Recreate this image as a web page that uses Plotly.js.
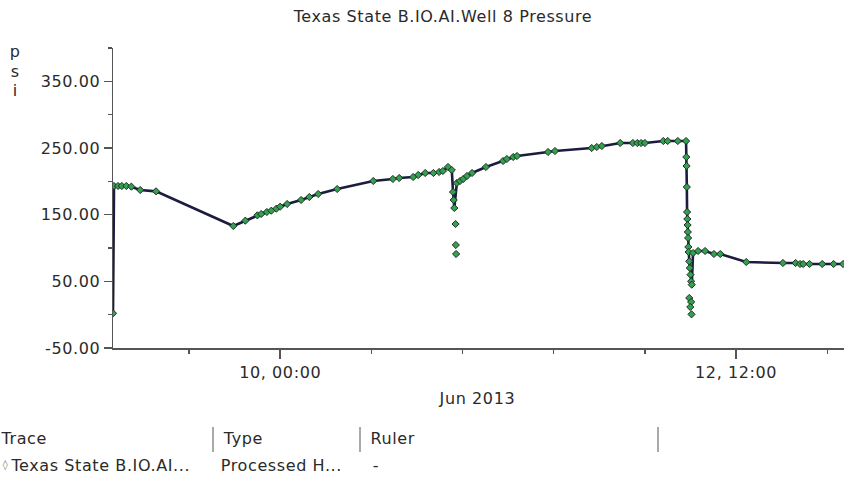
<!DOCTYPE html>
<html>
<head>
<meta charset="utf-8">
<script src="https://cdn.plot.ly/plotly-3.0.1.min.js"></script>
<style>html,body{margin:0;padding:0;background:#fff;}#chart{width:844px;height:481px;}#chart text{letter-spacing:0.6px;}</style>
</head>
<body>
<div id="chart"></div>
<script>
// ---- data ----
const chartTitle = "Texas State B.IO.AI.Well 8 Pressure";
const yUnitLetters = ["p", "s", "i"];
const timeLabel = "Jun 2013";

const times = [
  "2013-06-09 02:00","2013-06-09 02:08","2013-06-09 02:40","2013-06-09 03:10","2013-06-09 03:45",
  "2013-06-09 04:25","2013-06-09 05:35","2013-06-09 07:40","2013-06-09 17:50","2013-06-09 19:25",
  "2013-06-09 21:00","2013-06-09 21:30","2013-06-09 22:15","2013-06-09 22:50","2013-06-09 23:30",
  "2013-06-10 00:00","2013-06-10 00:55","2013-06-10 02:45","2013-06-10 03:50","2013-06-10 05:00",
  "2013-06-10 07:30","2013-06-10 12:15","2013-06-10 14:50","2013-06-10 15:40","2013-06-10 17:30",
  "2013-06-10 18:10","2013-06-10 19:05","2013-06-10 20:10","2013-06-10 20:55","2013-06-10 21:25",
  "2013-06-10 22:05","2013-06-10 22:35","2013-06-10 22:45","2013-06-10 22:50","2013-06-10 22:55",
  "2013-06-10 23:15","2013-06-10 23:40","2013-06-11 00:05","2013-06-11 00:35","2013-06-11 01:15",
  "2013-06-11 03:05","2013-06-11 05:20","2013-06-11 05:50","2013-06-11 06:40","2013-06-11 07:10",
  "2013-06-11 11:15","2013-06-11 12:10","2013-06-11 17:00","2013-06-11 17:40","2013-06-11 18:20",
  "2013-06-11 20:45","2013-06-11 22:25","2013-06-11 23:00","2013-06-11 23:30","2013-06-12 00:00",
  "2013-06-12 02:25","2013-06-12 03:00","2013-06-12 04:20","2013-06-12 05:25","2013-06-12 05:27",
  "2013-06-12 05:29","2013-06-12 05:31","2013-06-12 05:33","2013-06-12 05:35","2013-06-12 05:37",
  "2013-06-12 05:39","2013-06-12 05:41","2013-06-12 05:43","2013-06-12 05:45","2013-06-12 05:50",
  "2013-06-12 05:55","2013-06-12 06:00","2013-06-12 06:05","2013-06-12 06:10","2013-06-12 06:20",
  "2013-06-12 07:00","2013-06-12 07:55","2013-06-12 09:05","2013-06-12 09:55","2013-06-12 13:20",
  "2013-06-12 18:10","2013-06-12 19:50","2013-06-12 20:25","2013-06-12 20:50","2013-06-12 21:40",
  "2013-06-12 23:20","2013-06-13 00:50","2013-06-13 02:05"
];
const pressure = [
  2,193,193,193,193,
  192,187,185,133,141,
  149,151,154,156,159,
  162,166,172,176.5,181,
  188.5,200.5,203.5,205,206.5,
  209.5,212.5,212.5,214,215.5,
  221.5,217,184,172,160,
  197.5,200.5,203.5,208,212.5,
  221.5,230.5,233.5,236.5,238,
  244,245.5,250,251.5,253,
  257.5,257.5,257.5,257.5,257.5,
  260.5,260.5,260.5,260.5,236.5,
  223,191.5,154,143.5,134.5,
  124,115,101.5,94,80,
  70,60,50,45,92.5,
  95.5,95.5,91,91,79,
  77.5,77.5,76,76,76,
  76,76,76
];
// isolated samples below the drops (no connecting line)
const spikeTimes = ["2013-06-10 23:05","2013-06-10 23:07","2013-06-10 23:09",
                    "2013-06-12 05:50","2013-06-12 06:05","2013-06-12 05:58","2013-06-12 06:08"];
const spikePressure = [136,104.5,91,25,19,11.5,0.5];

const xRange = ["2013-06-09 02:00","2013-06-13 02:12"];
const xTickVals = ["2013-06-10 00:00","2013-06-12 12:00"];
const xTickText = ["10, 00:00","12, 12:00"];
const yRange = [-50, 400];
const yTickVals = [350,250,150,50,-50];
const yTickText = ["350.00","250.00","150.00","50.00","-50.00"];

const tableHeaders = ["Trace","Type","Ruler"];
const legendSymbol = "\u25CA";
const tableRow = ["Texas State B.IO.AI...","Processed H...","-"];

// ---- drawing ----
const FONT = "DejaVu Sans, Verdana, sans-serif";
const FS = 16;
const TXT = "#2a2a2a";
const W = 844, H = 481, L = 113, T = 48, B = 133, R = 0;
const PW = W - L - R, PH = H - T - B;
const px = X => (X - L) / PW;
const py = Y => (H - B - Y) / PH;

const markerStyle = {symbol: "diamond", size: 5.5, color: "#34a050", line: {color: "#1b2f24", width: 1}};

const traces = [
  {x: times, y: pressure, type: "scatter", mode: "lines+markers",
   line: {color: "#1c1b40", width: 2.6}, marker: markerStyle, hoverinfo: "x+y"},
  {x: spikeTimes, y: spikePressure, type: "scatter", mode: "markers",
   marker: markerStyle, hoverinfo: "x+y"}
];

const ann = [];
const shapes = [];
yUnitLetters.forEach((ch, i) => ann.push({
  text: ch, xref: "paper", yref: "paper", x: px(15), y: py(52 + i * 19),
  showarrow: false, xanchor: "center", yanchor: "middle", font: {family: FONT, size: FS, color: TXT}
}));
ann.push({text: timeLabel, xref: "paper", yref: "paper", x: px(477), y: py(398),
  showarrow: false, xanchor: "center", yanchor: "middle", font: {family: FONT, size: FS, color: TXT}});

const colX = [0, 222, 370];
const sepX = [213, 360, 658];
tableHeaders.forEach((h, i) => ann.push({text: h, xref: "paper", yref: "paper", x: px(colX[i]), y: py(438),
  showarrow: false, xanchor: "left", yanchor: "middle", font: {family: FONT, size: FS, color: TXT}}));
ann.push({text: legendSymbol, xref: "paper", yref: "paper", x: px(5), y: py(465),
  showarrow: false, xanchor: "center", yanchor: "middle", font: {family: FONT, size: 10, color: "#777"}});
tableRow.forEach((h, i) => ann.push({text: h, xref: "paper", yref: "paper", x: px(i === 0 ? 15 : colX[i] + 1), y: py(465),
  showarrow: false, xanchor: "left", yanchor: "middle", font: {family: FONT, size: FS, color: TXT}}));
sepX.forEach(sx => shapes.push({type: "line", xref: "paper", yref: "paper",
  x0: px(sx), x1: px(sx), y0: py(427), y1: py(452), line: {color: "#555", width: 1}}));

const layout = {
  width: W, height: H,
  margin: {l: L, r: R, t: T, b: B, pad: 0},
  paper_bgcolor: "#fff", plot_bgcolor: "#fff",
  showlegend: false,
  font: {family: FONT, size: FS, color: TXT},
  title: {text: chartTitle, x: 443 / W, xref: "container", xanchor: "center", y: 1 - 16 / H, yref: "container", yanchor: "middle",
          font: {family: FONT, size: FS, color: TXT}},
  xaxis: {type: "date", range: xRange, tickmode: "array", tickvals: xTickVals, ticktext: xTickText,
          showgrid: false, zeroline: false, showline: true, linecolor: "#555", linewidth: 1.5,
          ticks: "outside", ticklen: 9, tickwidth: 1.5, tickcolor: "#555",
          minor: {ticks: "outside", tickmode: "linear", tick0: "2013-06-09 00:00", dtick: 43200000, ticklen: 4, tickwidth: 1.5, tickcolor: "#555", showgrid: false},
          tickfont: {family: FONT, size: FS, color: TXT}},
  yaxis: {range: yRange, tickmode: "array", tickvals: yTickVals, ticktext: yTickText,
          showgrid: false, zeroline: false, showline: true, linecolor: "#555", linewidth: 1.5,
          ticks: "outside", ticklen: 8, tickwidth: 1.5, tickcolor: "#555",
          minor: {ticks: "outside", tickmode: "linear", tick0: 0, dtick: 50, ticklen: 4, tickwidth: 1.5, tickcolor: "#555", showgrid: false},
          tickfont: {family: FONT, size: FS, color: TXT}},
  annotations: ann,
  shapes: shapes
};

Plotly.newPlot("chart", traces, layout, {staticPlot: true, displayModeBar: false});
</script>
</body>
</html>
